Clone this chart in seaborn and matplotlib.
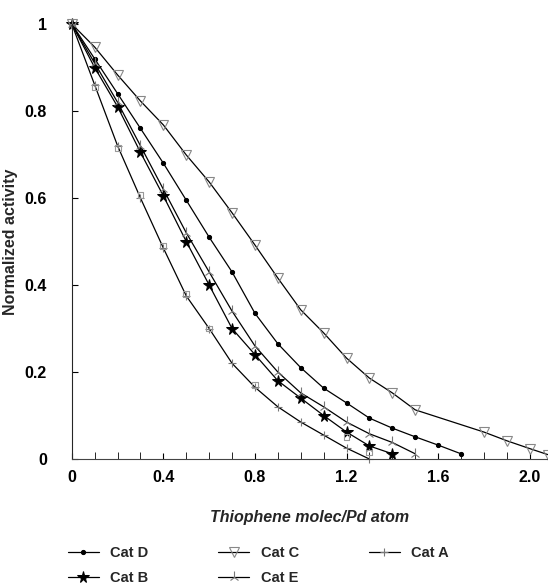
import matplotlib
matplotlib.use("Agg")
import matplotlib.pyplot as plt
import seaborn as sns
import numpy as np
import pandas as pd

# ---- data ----
x_A = [0, .1, .2, .3, .4, .5, .6, .7, .8, .9, 1.0, 1.1, 1.2, 1.3]
y_A = [1, .86, .72, .60, .485, .375, .30, .22, .165, .12, .085, .055, .025, 0.0]

x_B = [0, .1, .2, .3, .4, .5, .6, .7, .8, .9, 1.0, 1.1, 1.2, 1.3, 1.4]
y_B = [1, .90, .81, .705, .605, .50, .40, .30, .24, .18, .14, .10, .062, .03, .012]

x_E = [0, .1, .2, .3, .4, .5, .6, .7, .8, .9, 1.0, 1.1, 1.2, 1.3, 1.4, 1.5]
y_E = [1, .91, .82, .72, .62, .52, .43, .34, .26, .20, .152, .12, .085, .058, .038, .012]

x_D = [0, .1, .2, .3, .4, .5, .6, .7, .8, .9, 1.0, 1.1, 1.2, 1.3, 1.4, 1.5, 1.6, 1.7]
y_D = [1, .92, .84, .76, .68, .595, .51, .43, .335, .265, .21, .163, .129, .094, .071, .051, .032, .012]

x_C = [0, .1, .2, .3, .4, .5, .6, .7, .8, .9, 1.0, 1.1, 1.2, 1.3, 1.4, 1.5, 1.8, 1.9, 2.0, 2.08]
y_C = [1, .947, .883, .823, .768, .699, .637, .566, .492, .416, .343, .290, .232, .186, .152, .113, .062, .042, .024, .01]

# open squares seen along the lowest curve
sq_x = [.1, .2, .3, .4, .5, .6, .8, 1.2, 1.3]
sq_y = [.855, .715, .607, .49, .38, .30, .17, .05, .015]

series_order = ["Cat D", "Cat B", "Cat C", "Cat E", "Cat A"]
x_ticks = [0, 0.4, 0.8, 1.2, 1.6, 2.0]
x_tick_labels = ["0", "0.4", "0.8", "1.2", "1.6", "2.0"]
y_ticks = [0, 0.2, 0.4, 0.6, 0.8, 1.0]
y_tick_labels = ["0", "0.2", "0.4", "0.6", "0.8", "1"]

data = {
    "Cat D": (x_D, y_D),
    "Cat B": (x_B, y_B),
    "Cat C": (x_C, y_C),
    "Cat E": (x_E, y_E),
    "Cat A": (x_A, y_A),
}

styles = {
    "Cat D": dict(marker="o", markersize=3.0, markerfacecolor="black", markeredgecolor="black"),
    "Cat B": dict(marker="*", markersize=8.5, markerfacecolor="black", markeredgecolor="black"),
    "Cat C": dict(marker="v", markersize=6.5, markerfacecolor="none", markeredgecolor="#888888", markeredgewidth=0.8),
    "Cat E": dict(marker="2", markersize=8, markeredgecolor="#777777", markeredgewidth=0.8),
    "Cat A": dict(marker="+", markersize=5.5, markeredgecolor="#777777", markeredgewidth=0.8),
}

sns.set_style("ticks")
plt.rcParams["font.family"] = ["Liberation Sans", "DejaVu Sans"]

fig = plt.figure(figsize=(5.48, 5.86), dpi=100)
ax = fig.add_axes([0.131, 0.2167, 0.869, 0.7423])

rows = []
for name in series_order:
    xs, ys = data[name]
    for a, b in zip(xs, ys):
        rows.append({"cat": name, "x": a, "y": b})
df = pd.DataFrame(rows)

for name in series_order:
    sub = df[df["cat"] == name]
    sns.lineplot(data=sub, x="x", y="y", ax=ax, color="black", linewidth=0.9,
                 sort=False, estimator=None, label=name, legend=False, clip_on=False,
                 **styles[name])

ax.scatter(sq_x, sq_y, marker="s", s=18, facecolors="none", edgecolors="#999999",
           linewidths=0.8, zorder=3)

ax.set_xlim(0, 2.08)
ax.set_ylim(0, 1.0)
ax.set_xticks(x_ticks)
ax.set_xticklabels(x_tick_labels)
ax.set_yticks(y_ticks)
ax.set_yticklabels(y_tick_labels)
ax.set_xticks(np.arange(0.1, 2.01, 0.1), minor=True)
ax.tick_params(axis="both", which="major", direction="in", length=4, width=0.8,
               labelsize=11.5, colors="black")
ax.tick_params(axis="x", which="major", pad=8)
ax.tick_params(axis="y", which="major", pad=18)
ax.tick_params(axis="x", which="minor", direction="in", length=5, width=0.7)
for lab in ax.get_xticklabels() + ax.get_yticklabels():
    lab.set_fontweight("bold")

ax.spines["top"].set_visible(False)
ax.spines["right"].set_visible(False)
ax.spines["left"].set_linewidth(0.8)
ax.spines["bottom"].set_linewidth(0.8)
ax.spines["bottom"].set_color("#444444")

ax.set_xlabel("Thiophene molec/Pd atom", fontsize=11.5, fontweight="bold", style="italic")
ax.set_ylabel("Normalized activity", fontsize=11.5, fontweight="bold")
ax.xaxis.set_label_coords(0.5, -0.118)
ax.yaxis.set_label_coords(-0.113, 0.5)

h, l = ax.get_legend_handles_labels()
fig.legend(h, l, loc="upper left", bbox_to_anchor=(0.1, 0.09), ncol=3,
           frameon=False, handlelength=2.1, handletextpad=0.8,
           columnspacing=4.8, labelspacing=0.75, prop={"weight": "bold", "size": 10.5})

fig.savefig("out.png", dpi=100, facecolor="white")
